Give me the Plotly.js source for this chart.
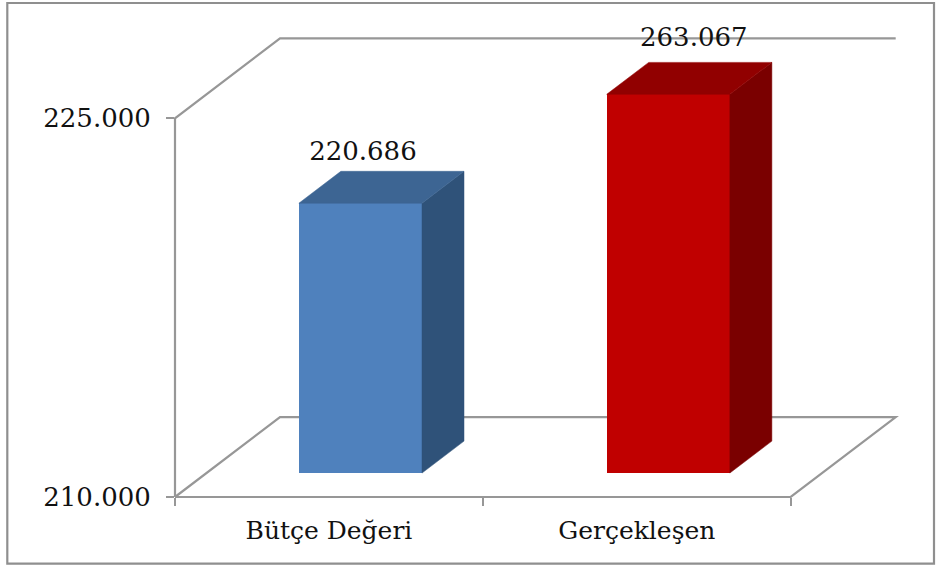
<!DOCTYPE html>
<html><head><meta charset="utf-8">
<script src="https://cdn.plot.ly/plotly-3.0.0.min.js"></script>
<style>html,body{margin:0;padding:0;background:#fff;overflow:hidden}</style>
</head><body><div id="chart" style="width:937px;height:568px"></div>
<script>
const categories = ["Bütçe Değeri", "Gerçekleşen"];
const values = [220686, 263067];
const valueLabels = ["220.686", "263.067"];
const axisMin = 210000;
const axisMax = 225000;
const axisTickLabels = ["210.000", "225.000"];
const frontColors = ["#4F81BD", "#C00000"];
const topColors = ["#3D6593", "#910000"];
const sideColors = ["#2F5279", "#7A0000"];
const gridColor = "#979797";

// Oblique projection of the chart's depth, in axis units
const unitsPerCatPx = 1 / 307.85, unitsPerValPx = 15000 / 379.5;
const depthX = 105 * unitsPerCatPx, depthY = 80 * unitsPerValPx;
const barWidth = 0.4, barFront = 0.3, barDepth = 0.4;
const catEnd = categories.length;
const wallRight = catEnd + depthX, wallTop = axisMax + depthY;
const plotW = 730, plotH = 490, marginL = 175, marginB = 70.5;
const xMax = plotW * unitsPerCatPx, yMax = axisMin + plotH * unitsPerValPx;
const floorShift = barFront * depthY, xShift = barFront * depthX;

function poly(xs, ys, color) {
  return {type:"scatter", mode:"lines", x:xs, y:ys, fill:"toself", fillcolor:color, hoverinfo:"skip",
          showlegend:false, cliponaxis:false, line:{color:color, width:0.5}};
}
function pathShape(pts) {
  return {type:"path", xref:"paper", yref:"paper", layer:"below", line:{color:gridColor, width:2.2}, fillcolor:"rgba(0,0,0,0)",
          path:pts.map((p, i) => (i ? "L" : "M") + (p[0] / xMax) + " " + ((p[1] - axisMin) / (yMax - axisMin))).join(" ")};
}
const traces = [];
const shown = values.map(v => Math.min(v, axisMax));
const centers = categories.map((c, i) => i + 0.5 + xShift);
const dx = barDepth * depthX, dy = barDepth * depthY;
categories.forEach((c, i) => {
  const l = centers[i] - barWidth / 2, r = centers[i] + barWidth / 2;
  const b = axisMin + floorShift, t = shown[i] + floorShift;
  traces.push(poly([r, r + dx, r + dx, r, r], [b, b + dy, t + dy, t, b], sideColors[i]));
  traces.push(poly([l, l + dx, r + dx, r, l], [t, t + dy, t + dy, t, t], topColors[i]));
});
traces.push({type:"bar", x:centers, y:shown.map(v => v - axisMin), base:shown.map(() => axisMin + floorShift),
  width:categories.map(() => barWidth), marker:{color:frontColors, line:{width:0}}, hoverinfo:"skip", showlegend:false});
const labelShiftX = [2.5 * unitsPerCatPx, 25.5 * unitsPerCatPx];
const labelShiftY = [50, 55].map(p => p * unitsPerValPx);
traces.push({type:"scatter", mode:"text", x:centers.map((c, i) => c + labelShiftX[i]),
  y:shown.map((v, i) => v + floorShift + labelShiftY[i]), text:valueLabels, textposition:"middle center",
  textfont:{family:"DejaVu Serif", size:26, color:"#111"}, cliponaxis:false, hoverinfo:"skip", showlegend:false});

const layout = {
  width:937, height:568, margin:{l:marginL, r:937 - marginL - plotW, t:568 - marginB - plotH, b:marginB, pad:0},
  paper_bgcolor:"#fff", plot_bgcolor:"rgba(0,0,0,0)", showlegend:false, bargap:0,
  font:{family:"DejaVu Serif", size:26, color:"#111"},
  xaxis:{range:[0, xMax], showgrid:false, zeroline:false, showline:false,
    tickmode:"array", tickvals:categories.map((c, i) => i + 0.5), ticktext:categories, ticks:"", ticklen:0,
    tickfont:{family:"DejaVu Serif", size:25}, ticklabelstandoff:16, tickangle:0,
    minor:{tickmode:"array", tickvals:categories.map((c, i) => i).concat([catEnd]), ticks:"outside", ticklen:8, tickwidth:2, tickcolor:gridColor, showgrid:false}},
  yaxis:{range:[axisMin, yMax], showgrid:false, zeroline:false, showline:false,
    tickmode:"array", tickvals:[axisMin, axisMax], ticktext:axisTickLabels, ticks:"outside", ticklen:8, tickwidth:2,
    tickcolor:gridColor, tickfont:{family:"DejaVu Serif", size:26}, ticklabelstandoff:10},
  shapes:[
    {type:"rect", xref:"paper", yref:"paper", layer:"below",
      x0:(7.3 - marginL) / plotW, x1:(934 - marginL) / plotW, y0:(497.5 - 564.3) / plotH, y1:(497.5 - 2.5) / plotH,
      line:{color:"#8f8f8f", width:2.2}, fillcolor:"rgba(0,0,0,0)"},
    pathShape([[0, axisMin], [0, axisMax], [depthX, wallTop], [wallRight, wallTop]]),
    pathShape([[0, axisMin], [depthX, axisMin + depthY], [wallRight, axisMin + depthY], [catEnd, axisMin], [0, axisMin]])
  ]
};
Plotly.newPlot("chart", traces, layout, {displayModeBar:false, staticPlot:true});
</script></body></html>
